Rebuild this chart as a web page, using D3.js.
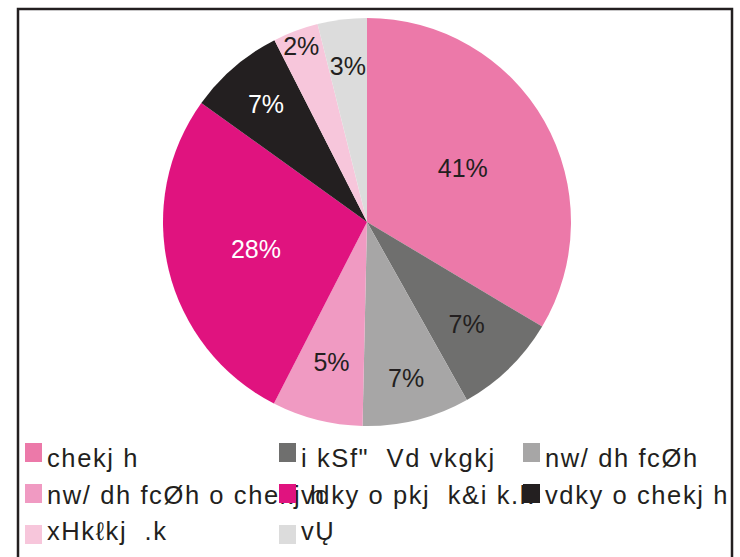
<!DOCTYPE html>
<html>
<head>
<meta charset="utf-8">
<script src="https://cdn.jsdelivr.net/npm/d3@7"></script>
<style>
  body { margin: 0; background: #fff; }
  svg { display: block; font-family: "Liberation Sans", Arial, sans-serif; }
</style>
</head>
<body>
<svg id="chart" width="740" height="557"></svg>
<script>
// slice shares as drawn, and the printed labels
const categories = [
  'chekj h',
  'i kSf"  Vd vkgkj',
  'nw/ dh fcØh',
  'nw/ dh fcØh o chekj h',
  'vdky o pkj  k&i k.k',
  'vdky o chekj h',
  'xHkℓkj  .k',
  'vŲ'
];
const shares = [33.6, 8.3, 8.5, 7.2, 27.4, 7.6, 3.6, 3.9];
const pctLabels = ['41%', '7%', '7%', '5%', '28%', '7%', '2%', '3%'];
const colors = ['#ec79a9', '#6f6f6e', '#a7a6a6', '#f09ac2', '#e0137f', '#231f20', '#f7c6db', '#dcdcdc'];

const svg = d3.select('#chart');

// frame
svg.append('rect')
  .attr('x', 18)
  .attr('y', 9)
  .attr('width', 714)
  .attr('height', 560)
  .style('fill', 'white')
  .style('stroke', '#231f20')
  .style('stroke-width', 2.5);

const cx = 367, cy = 222, radius = 204;
const data = categories.map((c, i) => ({ name: c, value: shares[i], label: pctLabels[i], color: colors[i] }));

const pie = d3.pie().sort(null).value(d => d.value);
const arc = d3.arc().innerRadius(0).outerRadius(radius);

const g = svg.append('g').attr('transform', `translate(${cx},${cy})`);
const slices = pie(data);

g.selectAll('path')
  .data(slices)
  .enter().append('path')
  .attr('d', arc)
  .style('fill', d => d.data.color);

// label distance from centre, as fraction of radius
const labelRadius = [0.54, 0.70, 0.79, 0.71, 0.56, 0.76, 0.92, 0.77];
g.selectAll('text.pct')
  .data(slices)
  .enter().append('text')
  .attr('class', 'pct')
  .attr('x', (d, i) => Math.sin((d.startAngle + d.endAngle) / 2) * radius * labelRadius[i])
  .attr('y', (d, i) => -Math.cos((d.startAngle + d.endAngle) / 2) * radius * labelRadius[i])
  .attr('dy', '0.36em')
  .attr('text-anchor', 'middle')
  .style('font-size', '25px')
  .style('fill', d => (d.data.color === '#e0137f' || d.data.color === '#231f20') ? '#fff' : '#231f20')
  .text(d => d.data.label);

// legend, 3 columns
const colSwatchX = [25, 279, 523];
const legend = svg.append('g').attr('class', 'legend');
const items = legend.selectAll('g')
  .data(data)
  .enter().append('g');

items.append('text')
  .attr('x', (d, i) => colSwatchX[i % 3] + 22)
  .attr('y', (d, i) => 467 + Math.floor(i / 3) * 36.5)
  .style('font-size', '25.5px')
  .style('letter-spacing', '1.6px')
  .style('white-space', 'pre')
  .style('fill', '#231f20')
  .text(d => d.name);

// swatches drawn last so they sit over overflowing text, as in the original
legend.selectAll('rect')
  .data(data)
  .enter().append('rect')
  .attr('x', (d, i) => colSwatchX[i % 3])
  .attr('y', (d, i) => 443 + Math.floor(i / 3) * 41)
  .attr('width', 17)
  .attr('height', 19)
  .style('fill', d => d.color);
</script>
</body>
</html>
